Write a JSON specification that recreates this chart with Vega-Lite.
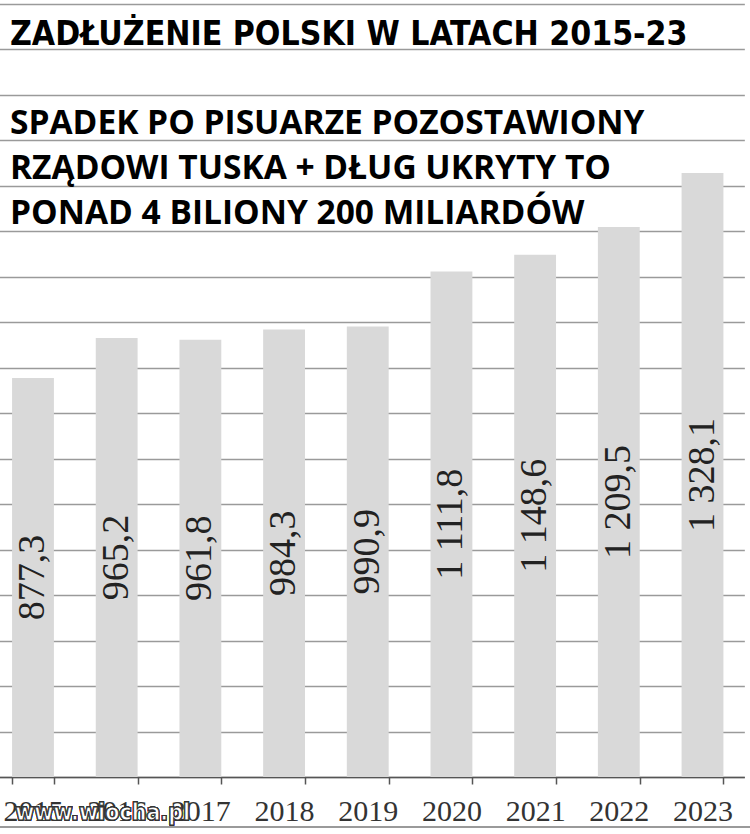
{
  "$schema": "https://vega.github.io/schema/vega-lite/v6.json",
  "width": 750,
  "height": 773,
  "autosize": {"type": "none"},
  "padding": {"left": 0, "top": 4, "right": 0, "bottom": 57},
  "background": "white",
  "config": {"view": {"stroke": null}, "text": {"font": "Times New Roman"}},
  "title": {
    "text": "ZADŁUŻENIE  POLSKI W LATACH 2015-23",
    "subtitle": ["SPADEK PO PISUARZE POZOSTAWIONY", "RZĄDOWI TUSKA + DŁUG UKRYTY TO", "PONAD 4 BILIONY 200 MILIARDÓW"],
    "anchor": "start",
    "frame": "group",
    "orient": "top",
    "offset": -227,
    "dx": 10,
    "font": "Liberation Sans Narrow, DejaVu Sans Condensed, sans-serif",
    "fontSize": 33.5,
    "fontWeight": "bold",
    "color": "#000000",
    "subtitleFont": "Open Sans",
    "subtitleFontSize": 33.5,
    "subtitleFontWeight": "bold",
    "subtitleColor": "#000000",
    "subtitleLineHeight": 45,
    "subtitlePadding": 55
  },
  "data": {
    "values": [
      {"year": "2015", "value": 877.3, "label": "877,3"},
      {"year": "2016", "value": 965.2, "label": "965,2"},
      {"year": "2017", "value": 961.8, "label": "961,8"},
      {"year": "2018", "value": 984.3, "label": "984,3"},
      {"year": "2019", "value": 990.9, "label": "990,9"},
      {"year": "2020", "value": 1111.8, "label": "1 111,8"},
      {"year": "2021", "value": 1148.6, "label": "1 148,6"},
      {"year": "2022", "value": 1209.5, "label": "1 209,5"},
      {"year": "2023", "value": 1328.1, "label": "1 328,1"}
    ]
  },
  "encoding": {
    "x": {
      "field": "year",
      "type": "nominal",
      "sort": null,
      "scale": {"range": [-8.85, 744.35], "paddingInner": 0.5, "paddingOuter": 0.25},
      "axis": {
        "title": null,
        "labelAngle": 0,
        "labelFont": "Liberation Serif, DejaVu Serif, serif",
        "labelFontSize": 30,
        "labelColor": "#333333",
        "labelBaseline": "alphabetic",
        "labelPadding": 36,
        "domainColor": "#555555",
        "domainWidth": 1.5,
        "tickColor": "#555555",
        "tickWidth": 1.5,
        "tickSize": 7,
        "tickBand": "extent",
        "grid": false
      }
    }
  },
  "layer": [
    {
      "mark": {"type": "bar", "color": "#d9d9d9"},
      "encoding": {
        "y": {
          "field": "value",
          "type": "quantitative",
          "scale": {"domain": [0, 1700], "nice": false, "zero": true},
          "axis": {
            "title": null,
            "labels": false,
            "ticks": false,
            "domain": false,
            "grid": true,
            "gridColor": "#9a9a9a",
            "gridWidth": 1.6,
            "values": [0, 100, 200, 300, 400, 500, 600, 700, 800, 900, 1000, 1100, 1200, 1300, 1400, 1500, 1600, 1700]
          }
        }
      }
    },
    {
      "mark": {"type": "text", "angle": 270, "align": "center", "baseline": "middle", "font": "Times New Roman", "fontSize": 38, "color": "#222222"},
      "encoding": {
        "y": {"field": "value", "type": "quantitative", "scale": {"domain": [0, 3400], "nice": false}, "axis": null},
        "text": {"field": "label"}
      }
    },
    {
      "mark": {"type": "rule", "color": "#9a9a9a", "strokeWidth": 1.6},
      "encoding": {
        "x": null,
        "y": {"datum": -110, "scale": {"domain": [0, 1700], "nice": false}, "axis": null}
      }
    },
    {
      "mark": {"type": "text", "align": "center", "baseline": "alphabetic", "font": "DejaVu Sans Condensed", "fontSize": 23, "fontWeight": "bold", "fill": "#ffffff", "stroke": "#333333", "strokeWidth": 1, "dx": -14},
      "encoding": {
        "x": {"datum": "2016"},
        "y": {"datum": -95, "scale": {"domain": [0, 1700], "nice": false}, "axis": null},
        "text": {"value": "www.wiocha.pl"}
      }
    }
  ],
  "resolve": {"scale": {"y": "independent"}}
}
